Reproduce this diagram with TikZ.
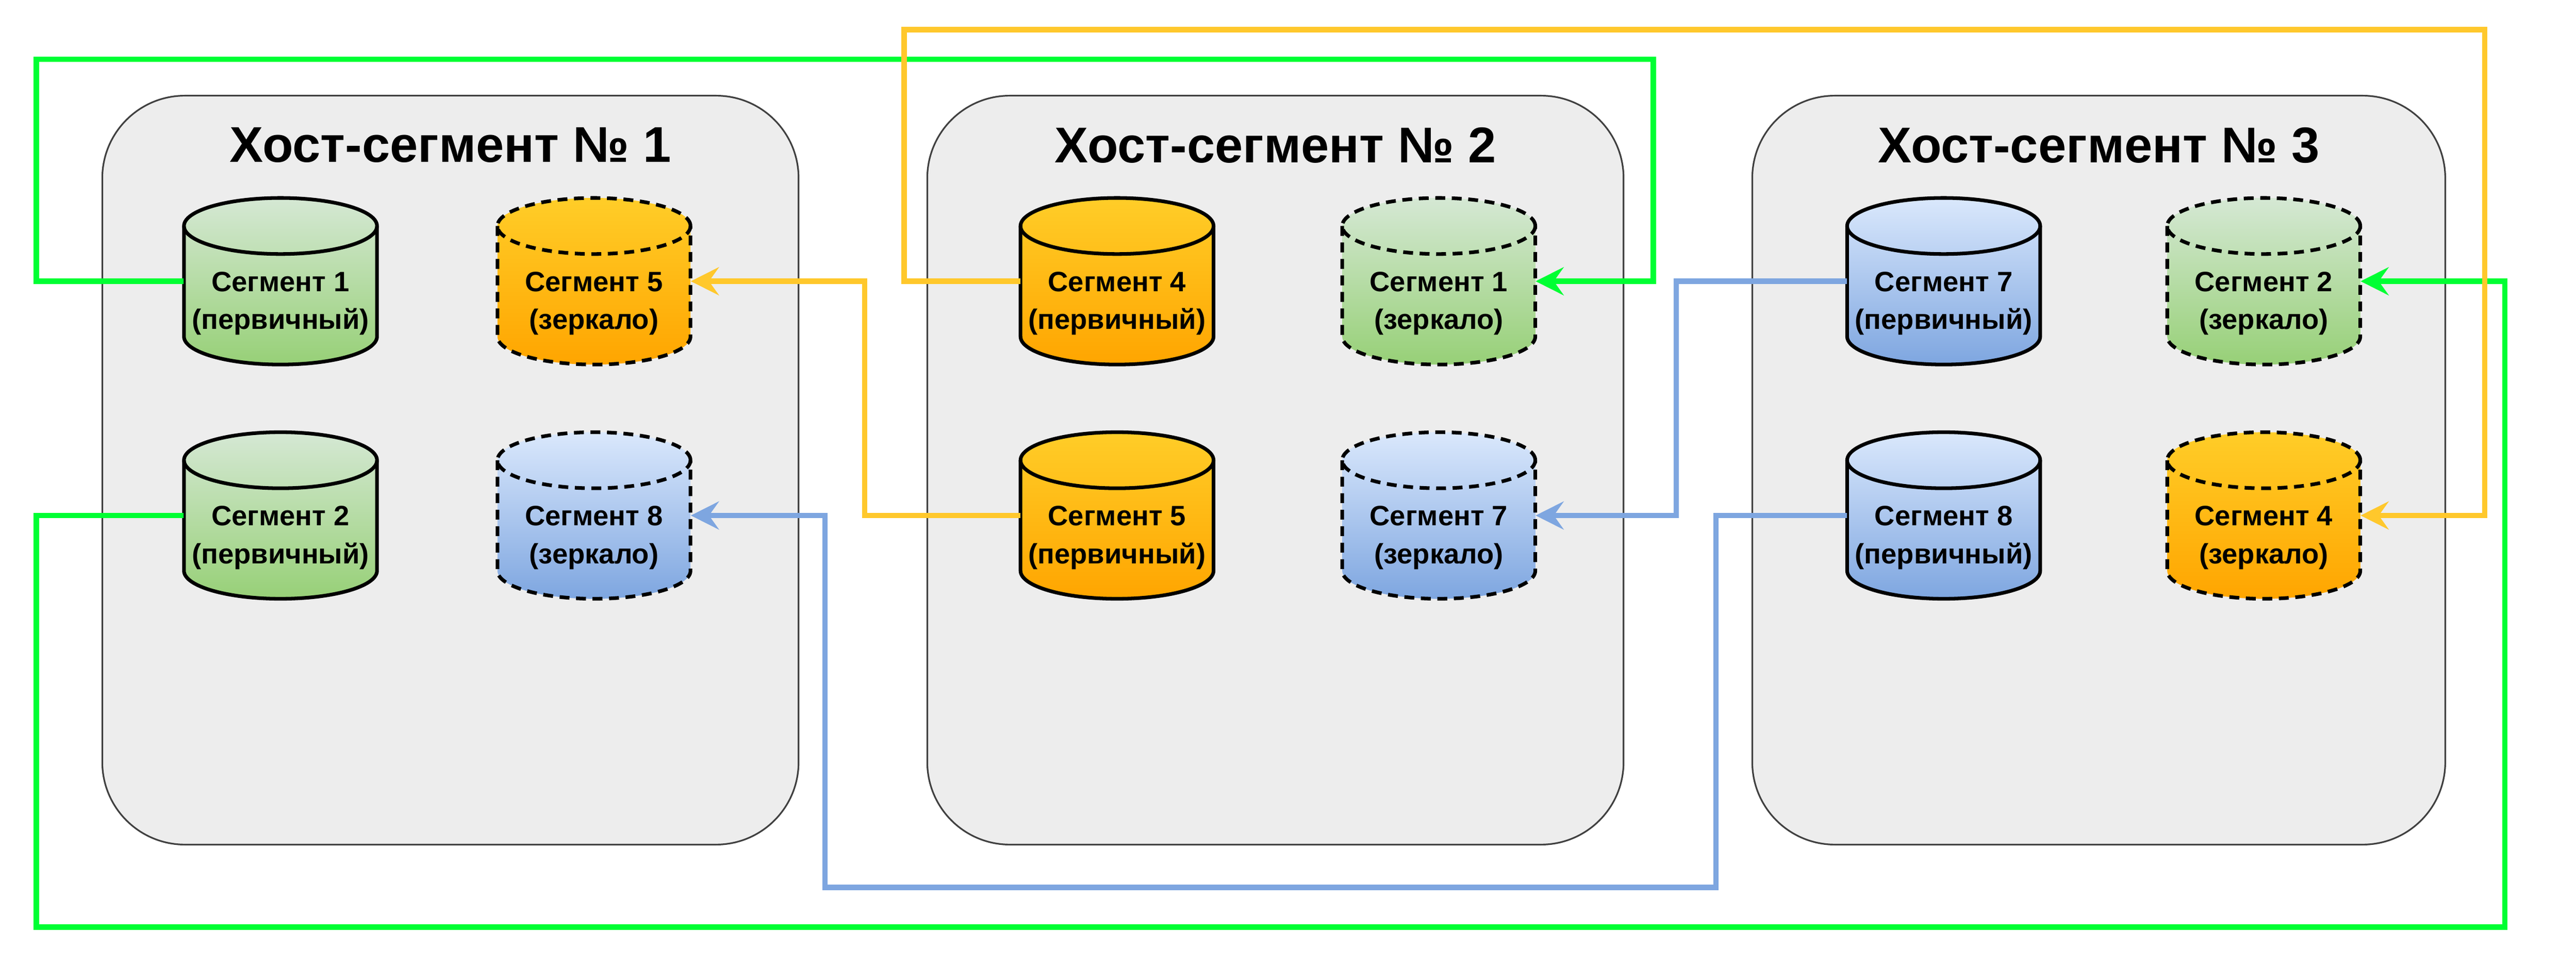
\documentclass[tikz,border=0pt]{standalone}
\usepackage{fontspec}
\setmainfont{Liberation Sans}
\usetikzlibrary{arrows.meta}
\definecolor{gA}{HTML}{D5E8D4}\definecolor{gB}{HTML}{97D077}
\definecolor{oA}{HTML}{FFCD28}\definecolor{oB}{HTML}{FFA500}
\definecolor{bA}{HTML}{DAE8FC}\definecolor{bB}{HTML}{7EA6E0}
\definecolor{lg}{HTML}{00FF33}\definecolor{ly}{HTML}{FFC82C}\definecolor{lb}{HTML}{7EA6E0}
\newcommand\dbc[7]{%
 \path[top color=#4,bottom color=#5] ({#2-58.5},{-(#3+17)}) -- ({#2-58.5},{-(#3+84)}) arc[start angle=180,end angle=360,x radius=58.5,y radius=17] -- ({#2+58.5},{-(#3+17)}) arc[start angle=0,end angle=180,x radius=58.5,y radius=17] -- cycle;
 \draw[line width=2.2pt,#6] ({#2-58.5},{-(#3+17)}) -- ({#2-58.5},{-(#3+84)}) arc[start angle=180,end angle=360,x radius=58.5,y radius=17] -- ({#2+58.5},{-(#3+17)});
 \draw[line width=2.2pt,#6] (#2,{-(#3+17)}) ellipse[x radius=58.5,y radius=17];
 \node[minimum width=117pt,minimum height=101pt,inner sep=0] (#1) at (#2,{-(#3+50.5)}) {};
 \node[align=center,font=\bfseries\fontsize{17}{23}\selectfont,inner sep=0] at (#2,{-(#3+64)}) {#7};}
\tikzset{host/.style={draw=black!75,line width=1pt,fill=black!7,rounded corners=50pt},
 ttl/.style={font=\bfseries\fontsize{30.5}{34}\selectfont},
 mir/.style={dash pattern=on 6pt off 4pt},
 con/.style={line width=3.2pt,-{Stealth[length=17pt,width=17pt,inset=6pt]}}}
\begin{document}
\begin{tikzpicture}[x=1pt,y=1pt]
\useasboundingbox (0,0) rectangle (1561.25,-585);
\foreach \a/\b/\n in {62/484/1,562/984/2,1062/1482/3}{
 \draw[host] (\a,-58) rectangle (\b,-512);
 \node[ttl] (h\n) at ({(\a+\b)/2},-88) {Хост-сегмент № \n};}
\dbc{s1}{170}{120}{gA}{gB}{solid}{Сегмент 1\\(первичный)}
\dbc{s2}{170}{262}{gA}{gB}{solid}{Сегмент 2\\(первичный)}
\dbc{m5}{360}{120}{oA}{oB}{mir}{Сегмент 5\\(зеркало)}
\dbc{m8}{360}{262}{bA}{bB}{mir}{Сегмент 8\\(зеркало)}
\dbc{s4}{677}{120}{oA}{oB}{solid}{Сегмент 4\\(первичный)}
\dbc{s5}{677}{262}{oA}{oB}{solid}{Сегмент 5\\(первичный)}
\dbc{m1}{872}{120}{gA}{gB}{mir}{Сегмент 1\\(зеркало)}
\dbc{m7}{872}{262}{bA}{bB}{mir}{Сегмент 7\\(зеркало)}
\dbc{s7}{1178}{120}{bA}{bB}{solid}{Сегмент 7\\(первичный)}
\dbc{s8}{1178}{262}{bA}{bB}{solid}{Сегмент 8\\(первичный)}
\dbc{m2}{1372}{120}{gA}{gB}{mir}{Сегмент 2\\(зеркало)}
\dbc{m4}{1372}{262}{oA}{oB}{mir}{Сегмент 4\\(зеркало)}
\draw[con,lg] (s1.west) -- (22,-170.5) -- (22,-36) -- (1002,-36) -- (1002,-170.5) -- (m1.east);
\draw[con,lg] (s2.west) -- (22,-312.5) -- (22,-562) -- (1518,-562) -- (1518,-170.5) -- (m2.east);
\draw[con,ly] (s4.west) -- (548,-170.5) -- (548,-18) -- (1506,-18) -- (1506,-312.5) -- (m4.east);
\draw[con,ly] (s5.west) -- (524,-312.5) -- (524,-170.5) -- (m5.east);
\draw[con,lb] (s7.west) -- (1016,-170.5) -- (1016,-312.5) -- (m7.east);
\draw[con,lb] (s8.west) -- (1040,-312.5) -- (1040,-538) -- (500,-538) -- (500,-312.5) -- (m8.east);
\end{tikzpicture}
\end{document}
